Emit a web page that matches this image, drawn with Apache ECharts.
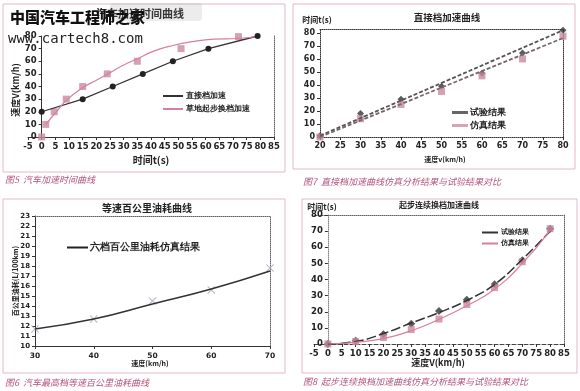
<!DOCTYPE html>
<html><head><meta charset="utf-8">
<script src="https://cdn.jsdelivr.net/npm/echarts@6/dist/echarts.min.js"></script>
<style>html,body{margin:0;padding:0;background:#fff}#c{width:580px;height:391px}</style>
</head><body><div id="c"></div>
<script>
// ---------- 图5 汽车加速时间曲线 ----------
const f5DirectTime  = [0, 15, 26, 37, 48, 61, 79];
const f5DirectSpeed = [20, 30, 40, 50, 60, 70, 80];
const f5GrassTime   = [0, 1.5, 4.6, 9, 15, 24, 35, 51, 72];
const f5GrassSpeed  = [0, 10, 20, 30, 40, 50, 60, 70, 79.5];
const f5GrassFitTime  = [1.5, 5, 9, 15, 20, 25, 30, 35, 41, 48, 55, 63, 72, 80];
const f5GrassFitSpeed = [10, 19, 29, 39, 45, 51, 57, 62, 68, 72.5, 75.5, 77.5, 78, 80];
// ---------- 图7 直接档加速曲线 ----------
const f7Speed    = [20, 30, 40, 50, 60, 70, 80];
const f7TestTime = [1, 18, 29, 39, 49, 64.5, 82];
const f7SimTime  = [0, 14, 25, 35, 47, 60, 77.5];
const f7FitSpeed   = [20, 80];
const f7TestFit    = [1, 82];
const f7SimFit     = [0, 76];
// ---------- 图6 等速百公里油耗曲线 ----------
const f6Speed  = [30, 40, 50, 60, 70];
const f6Marks  = [11.7, 12.7, 14.5, 15.6, 17.8];
const f6SimFit = [11.7, 12.7, 14.2, 15.7, 17.5];
// ---------- 图8 起步连续换档加速曲线 ----------
const f8Speed    = [0, 10, 20, 30, 40, 50, 60, 70, 80];
const f8TestTime = [0, 2, 6, 12.5, 20.5, 27.5, 37, 52, 71.5];
const f8SimTime  = [0, 1.5, 4, 9, 15.5, 24.5, 35, 51, 71.5];
const f8TestFit  = [0, 1.5, 6.5, 13, 19.5, 27, 37, 52.5, 70];
const f8SimFit   = [0, 1, 3.3, 8.2, 15.3, 23.7, 34, 50, 70.5];

const zip = (a, b) => a.map((v, i) => [v, b[i]]);
const INK = '#222';
const PINK = '#d77f9c';
const PINKMARK = '#c98aa0';

// grid layouts (pixels)
const G = [
  { left: 28,  top: 36,  width: 246, height: 101 },
  { left: 320, top: 29,  width: 243, height: 108 },
  { left: 35,  top: 216, width: 235, height: 130 },
  { left: 314, top: 215, width: 250, height: 129 }
];
// the vertical axis of figs 5 and 8 crosses the x axis at 0 (x range -5..85)
const zeroOffset = (g) => -g.width * 5 / 90;

function lbl(size, bold) {
  return { fontSize: size, fontWeight: bold ? 'bold' : 'normal', color: INK, fontFamily: 'DejaVu Sans' };
}
function mainAxis(grid, min, max, interval, opt) {
  return Object.assign({
    type: 'value', gridIndex: grid, min, max, interval,
    splitLine: { show: false },
    axisTick: { show: true, length: 3, lineStyle: { color: '#333' } },
    axisLine: { show: true, onZero: false, lineStyle: { color: '#333', width: 1 } },
    axisLabel: Object.assign({ margin: 5 }, lbl(8.5, true))
  }, opt || {});
}
function borderAxis(grid, min, max, position, style) {
  return {
    type: 'value', gridIndex: grid, min, max, position,
    splitLine: { show: false }, axisTick: { show: false }, axisLabel: { show: false },
    axisLine: { show: true, onZero: false, lineStyle: Object.assign({ color: '#666', width: 1, type: 'dotted' }, style || {}) }
  };
}
function txt(x, y, text, size, opt, extra) {
  return Object.assign({
    type: 'text', x, y, z: 50,
    style: Object.assign({ text, fontSize: size, fontWeight: 'bold', fontFamily: '"Noto Sans CJK SC", sans-serif', fill: INK, align: 'left', verticalAlign: 'middle' }, opt || {})
  }, extra || {});
}
function caption(x, y, text) {
  return txt(x, y, text, 9, { fill: '#b4557f', fontStyle: 'italic', fontWeight: 'normal' });
}
function frame(x, y, w, h) {
  return { type: 'rect', z: 1, shape: { x, y, width: w, height: h }, style: { fill: 'none', stroke: '#e6b7c7', lineWidth: 1 } };
}

const chart = echarts.init(document.getElementById('c'), null, { renderer: 'canvas' });
chart.setOption({
  backgroundColor: '#fff',
  animation: false,
  grid: G.map(g => Object.assign({ outerBoundsMode: 'none' }, g)),
  xAxis: [
    mainAxis(0, -5, 85, 5),
    mainAxis(1, 20, 80, 5, { axisLabel: Object.assign({ margin: 5 }, lbl(8, true)), axisLine: { show: true, onZero: false, lineStyle: { color: '#333', type: 'dotted' } } }),
    borderAxis(1, 20, 80, 'top', { color: '#333' }),
    mainAxis(2, 30, 70, 10, { axisLabel: Object.assign({ margin: 6 }, lbl(7.5, true)) }),
    borderAxis(2, 30, 70, 'top'),
    mainAxis(3, -5, 85, 5, { axisLine: { show: true, onZero: false, lineStyle: { color: '#444', type: 'dashed' } } }),
    borderAxis(3, -5, 85, 'top')
  ],
  yAxis: [
    mainAxis(0, 0, 80, 10, { offset: zeroOffset(G[0]) }),
    borderAxis(0, 0, 80, 'right'),
    mainAxis(1, 0, 83, 10, { axisLabel: Object.assign({ margin: 5, showMaxLabel: false }, lbl(8, true)), axisLine: { show: true, onZero: false, lineStyle: { color: '#333', type: 'dotted' } } }),
    borderAxis(1, 0, 83, 'right', { color: '#333' }),
    mainAxis(2, 10, 23, 1, { axisLabel: Object.assign({ margin: 5 }, lbl(7, true)) }),
    borderAxis(2, 10, 23, 'right'),
    mainAxis(3, 0, 80, 10, { offset: zeroOffset(G[3]), axisLine: { show: true, onZero: false, lineStyle: { color: '#888', type: 'dotted' } } }),
    borderAxis(3, 0, 80, 'right')
  ],
  legend: [
    { left: 158, top: 86, orient: 'vertical', itemWidth: 20, itemHeight: 2, itemGap: 3, icon: 'rect',
      textStyle: { fontSize: 8, fontWeight: 'bold', color: INK, lineHeight: 10, padding: [0, 0, 0, -2] },
      data: [{ name: '直接档加速', itemStyle: { color: '#333' } }, { name: '草地起步换档加速', itemStyle: { color: PINK } }] },
    { left: 447, top: 102, orient: 'vertical', itemWidth: 16, itemHeight: 3, itemGap: 2, icon: 'rect',
      textStyle: { fontSize: 9, fontWeight: 'bold', color: INK, lineHeight: 11, padding: [0, 0, 0, -3] },
      data: [{ name: '试验结果', itemStyle: { color: '#666' } }, { name: '仿真结果', itemStyle: { color: '#d9a3b6' } }] },
    { left: 62, top: 236, orient: 'vertical', itemWidth: 21, itemHeight: 2, icon: 'rect',
      textStyle: { fontSize: 10, fontWeight: 'bold', color: INK, lineHeight: 13, padding: [0, 0, 0, -3] },
      data: [{ name: '六档百公里油耗仿真结果', itemStyle: { color: '#222' } }] },
    { left: 477, top: 223, orient: 'vertical', itemWidth: 16, itemHeight: 2, itemGap: 2, icon: 'rect',
      textStyle: { fontSize: 7, fontWeight: 'bold', color: INK, lineHeight: 9, padding: [0, 0, 0, -2] },
      data: [{ name: '试验结果', itemStyle: { color: '#333' } }, { name: '仿真结果', itemStyle: { color: PINK } }] }
  ],
  series: [
    // 图5
    { name: '直接档加速', type: 'line', xAxisIndex: 0, yAxisIndex: 0, data: zip(f5DirectTime, f5DirectSpeed),
      color: '#333', symbol: 'circle', symbolSize: 6, lineStyle: { width: 1.3, color: '#333' }, itemStyle: { color: '#222' } },
    { name: '草地起步换档加速', type: 'line', xAxisIndex: 0, yAxisIndex: 0, data: zip(f5GrassFitTime, f5GrassFitSpeed),
      color: PINK, smooth: true, showSymbol: false, lineStyle: { width: 1.2, color: PINK } },
    { name: '草地起步换档加速点', type: 'scatter', xAxisIndex: 0, yAxisIndex: 0, data: zip(f5GrassTime, f5GrassSpeed),
      symbol: 'rect', symbolSize: 7, itemStyle: { color: PINKMARK } },
    // 图7
    { name: '试验结果', type: 'line', xAxisIndex: 1, yAxisIndex: 2, data: zip(f7FitSpeed, f7TestFit),
      color: '#555', showSymbol: false, lineStyle: { width: 1.8, color: '#555', type: [4, 2] } },
    { name: '仿真结果', type: 'line', xAxisIndex: 1, yAxisIndex: 2, data: zip(f7FitSpeed, f7SimFit),
      color: '#7a6470', showSymbol: false, lineStyle: { width: 1.8, color: '#7a6470', type: [4, 2] } },
    { name: '试验点7', type: 'scatter', xAxisIndex: 1, yAxisIndex: 2, data: zip(f7Speed, f7TestTime),
      symbol: 'diamond', symbolSize: 7, itemStyle: { color: '#333' } },
    { name: '仿真点7', type: 'scatter', xAxisIndex: 1, yAxisIndex: 2, data: zip(f7Speed, f7SimTime),
      symbol: 'rect', symbolSize: 7, itemStyle: { color: PINKMARK } },
    // 图6
    { name: '六档百公里油耗仿真结果', type: 'line', xAxisIndex: 3, yAxisIndex: 4, data: zip(f6Speed, f6SimFit),
      color: '#222', smooth: true, showSymbol: false, lineStyle: { width: 1.6, color: '#333' } },
    { name: '油耗点', type: 'scatter', xAxisIndex: 3, yAxisIndex: 4, data: zip(f6Speed, f6Marks),
      symbol: 'path://M0,1L1,0L5,4L9,0L10,1L6,5L10,9L9,10L5,6L1,10L0,9L4,5Z', symbolSize: 8, itemStyle: { color: '#a7adbd' } },
    // 图8
    { name: '试验结果', type: 'line', xAxisIndex: 5, yAxisIndex: 6, data: zip(f8Speed, f8TestFit),
      color: '#333', smooth: true, showSymbol: false, lineStyle: { width: 1.5, color: '#333', type: [10, 3] } },
    { name: '仿真结果', type: 'line', xAxisIndex: 5, yAxisIndex: 6, data: zip(f8Speed, f8SimFit),
      color: PINK, smooth: true, showSymbol: false, lineStyle: { width: 1.2, color: PINK } },
    { name: '试验点8', type: 'scatter', xAxisIndex: 5, yAxisIndex: 6, data: zip(f8Speed, f8TestTime),
      symbol: 'diamond', symbolSize: 8, itemStyle: { color: '#333' } },
    { name: '仿真点8', type: 'scatter', xAxisIndex: 5, yAxisIndex: 6, data: zip(f8Speed, f8SimTime),
      symbol: 'rect', symbolSize: 7, itemStyle: { color: PINKMARK } }
  ],
  graphic: [
    frame(3, 4, 282, 168), frame(293, 4, 282, 165), frame(3, 199, 282, 174), frame(302, 199, 275, 174),
    // 图5 texts
    txt(140, 14, '汽车加速时间曲线', 11, { align: 'center' }),
    txt(16, 90, '速度V(km/h)', 9, { align: 'center' }, { rotation: Math.PI / 2 }),
    txt(151, 160, '时间t(s)', 10, { align: 'center' }),
    caption(5, 180, '图5  汽车加速时间曲线'),
    // watermark
    { type: 'rect', z: 60, shape: { x: 110, y: 3, width: 92, height: 18, r: 3 }, style: { fill: 'rgba(150,150,150,0.18)' } },
    txt(10, 17, '中国汽车工程师之家', 15, { fontWeight: 900, fill: '#111' }, { z: 70 }),
    txt(8, 39, 'www.cartech8.com', 14, { fontFamily: '"DejaVu Sans Mono", monospace', fontWeight: 'normal', fill: '#222' }, { z: 70 }),
    // 图7 texts
    txt(447, 17, '直接档加速曲线', 9.5, { align: 'center' }),
    txt(317, 20, '时间t(s)', 8, { align: 'center' }),
    txt(445, 159, '速度v(km/h)', 7, { align: 'center' }),
    caption(303, 182, '图7  直接档加速曲线仿真分析结果与试验结果对比'),
    // 图6 texts
    txt(147, 208, '等速百公里油耗曲线', 10, { align: 'center' }),
    txt(15, 281, '百公里油耗(L/100km)', 7, { align: 'center' }, { rotation: Math.PI / 2 }),
    txt(150, 363, '速度(km/h)', 7, { align: 'center' }),
    caption(5, 383, '图6  汽车最高档等速百公里油耗曲线'),
    // 图8 texts
    txt(439, 205, '起步连续换档加速曲线', 8, { align: 'center' }),
    txt(322, 207, '时间t(s)', 8, { align: 'center' }),
    txt(438, 363, '速度V(km/h)', 9, { align: 'center' }),
    caption(303, 382, '图8  起步连续换档加速曲线仿真分析结果与试验结果对比')
  ]
});
</script>
</body></html>
